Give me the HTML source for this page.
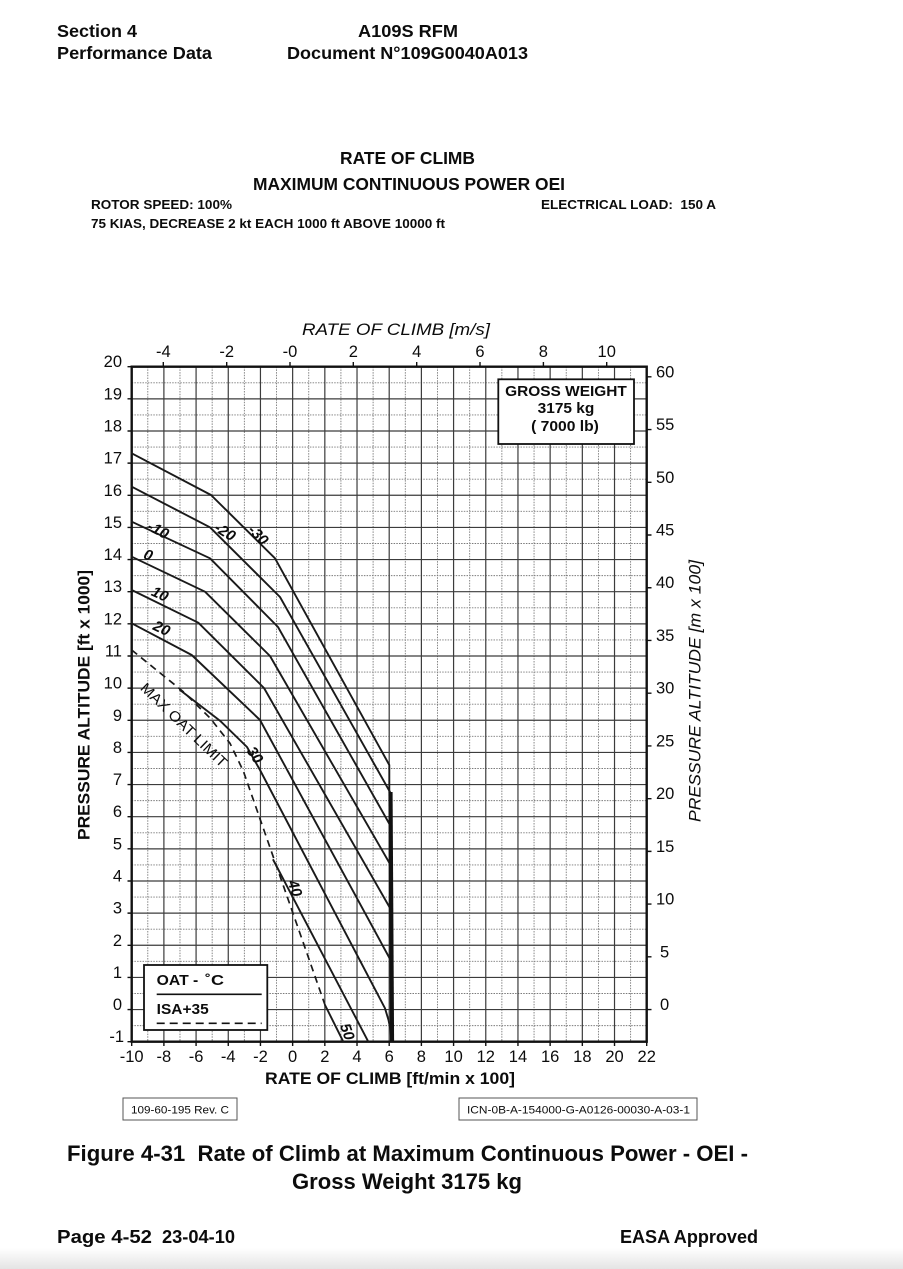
<!DOCTYPE html>
<html>
<head>
<meta charset="utf-8">
<style>
html,body{margin:0;padding:0;background:#fff;}
svg{display:block;}
text{font-family:"Liberation Sans",Arial,sans-serif;fill:#0c0c0c;}
</style>
</head>
<body>
<svg width="903" height="1269" viewBox="0 0 903 1269" xmlns="http://www.w3.org/2000/svg">
<defs>
<linearGradient id="bg" x1="0" y1="0" x2="0" y2="1">
<stop offset="0" stop-color="#ffffff"/>
<stop offset="1" stop-color="#e4e4e4"/>
</linearGradient>
</defs>
<rect x="0" y="0" width="903" height="1269" fill="#fff"/>
<rect x="0" y="1248" width="903" height="21" fill="url(#bg)"/>

<!-- Header -->
<text x="57" y="37" font-size="17.5" font-weight="bold" textLength="80" lengthAdjust="spacingAndGlyphs">Section 4</text>
<text x="57" y="59" font-size="17.5" font-weight="bold" textLength="155" lengthAdjust="spacingAndGlyphs">Performance Data</text>
<text x="358" y="37" font-size="17.5" font-weight="bold" textLength="100" lengthAdjust="spacingAndGlyphs">A109S RFM</text>
<text x="287" y="59" font-size="17.5" font-weight="bold" textLength="241" lengthAdjust="spacingAndGlyphs">Document N°109G0040A013</text>

<text x="340" y="164" font-size="17.5" font-weight="bold" textLength="135" lengthAdjust="spacingAndGlyphs">RATE OF CLIMB</text>
<text x="253" y="190" font-size="17.5" font-weight="bold" textLength="312" lengthAdjust="spacingAndGlyphs">MAXIMUM CONTINUOUS POWER OEI</text>
<text x="91" y="209" font-size="13" font-weight="bold" textLength="141" lengthAdjust="spacingAndGlyphs">ROTOR SPEED: 100%</text>
<text x="541" y="209" font-size="13" font-weight="bold" textLength="175" lengthAdjust="spacingAndGlyphs">ELECTRICAL LOAD:&#160; 150 A</text>
<text x="91" y="228" font-size="13" font-weight="bold" textLength="354" lengthAdjust="spacingAndGlyphs">75 KIAS, DECREASE 2 kt EACH 1000 ft ABOVE 10000 ft</text>

<!-- Grid minor (dotted) -->
<path fill="none" stroke="#7a7a7a" stroke-width="0.9" stroke-dasharray="1.5,1.2" d="
M147.79 366.7V1041.7 M179.98 366.7V1041.7 M212.17 366.7V1041.7 M244.36 366.7V1041.7 M276.55 366.7V1041.7 M308.73 366.7V1041.7 M340.92 366.7V1041.7 M373.11 366.7V1041.7 M405.3 366.7V1041.7 M437.49 366.7V1041.7 M469.67 366.7V1041.7 M501.86 366.7V1041.7 M534.05 366.7V1041.7 M566.24 366.7V1041.7 M598.43 366.7V1041.7 M630.61 366.7V1041.7
M131.7 382.77H646.7 M131.7 414.91H646.7 M131.7 447.06H646.7 M131.7 479.2H646.7 M131.7 511.34H646.7 M131.7 543.49H646.7 M131.7 575.63H646.7 M131.7 607.77H646.7 M131.7 639.92H646.7 M131.7 672.06H646.7 M131.7 704.2H646.7 M131.7 736.34H646.7 M131.7 768.49H646.7 M131.7 800.63H646.7 M131.7 832.77H646.7 M131.7 864.92H646.7 M131.7 897.06H646.7 M131.7 929.2H646.7 M131.7 961.35H646.7 M131.7 993.49H646.7 M131.7 1025.63H646.7"/>

<!-- Grid major -->
<path fill="none" stroke="#3c3c3c" stroke-width="1.2" d="
M163.89 366.7V1041.7 M196.08 366.7V1041.7 M228.26 366.7V1041.7 M260.45 366.7V1041.7 M292.64 366.7V1041.7 M324.83 366.7V1041.7 M357.02 366.7V1041.7 M389.2 366.7V1041.7 M421.39 366.7V1041.7 M453.58 366.7V1041.7 M485.77 366.7V1041.7 M517.96 366.7V1041.7 M550.14 366.7V1041.7 M582.33 366.7V1041.7 M614.52 366.7V1041.7
M131.7 398.84H646.7 M131.7 430.99H646.7 M131.7 463.13H646.7 M131.7 495.27H646.7 M131.7 527.42H646.7 M131.7 559.56H646.7 M131.7 591.7H646.7 M131.7 623.84H646.7 M131.7 655.99H646.7 M131.7 688.13H646.7 M131.7 720.27H646.7 M131.7 752.42H646.7 M131.7 784.56H646.7 M131.7 816.7H646.7 M131.7 848.85H646.7 M131.7 880.99H646.7 M131.7 913.13H646.7 M131.7 945.27H646.7 M131.7 977.42H646.7 M131.7 1009.56H646.7"/>

<!-- Ticks -->
<path fill="none" stroke="#111" stroke-width="1.4" d="
M131.7 1041.7V1046 M163.89 1041.7V1046 M196.08 1041.7V1046 M228.26 1041.7V1046 M260.45 1041.7V1046 M292.64 1041.7V1046 M324.83 1041.7V1046 M357.02 1041.7V1046 M389.2 1041.7V1046 M421.39 1041.7V1046 M453.58 1041.7V1046 M485.77 1041.7V1046 M517.96 1041.7V1046 M550.14 1041.7V1046 M582.33 1041.7V1046 M614.52 1041.7V1046 M646.7 1041.7V1046
M127.5 366.7H131.7 M127.5 398.84H131.7 M127.5 430.99H131.7 M127.5 463.13H131.7 M127.5 495.27H131.7 M127.5 527.42H131.7 M127.5 559.56H131.7 M127.5 591.7H131.7 M127.5 623.84H131.7 M127.5 655.99H131.7 M127.5 688.13H131.7 M127.5 720.27H131.7 M127.5 752.42H131.7 M127.5 784.56H131.7 M127.5 816.7H131.7 M127.5 848.85H131.7 M127.5 880.99H131.7 M127.5 913.13H131.7 M127.5 945.27H131.7 M127.5 977.42H131.7 M127.5 1009.56H131.7 M127.5 1041.7H131.7
M646.7 376.83H651.5 M646.7 429.56H651.5 M646.7 482.29H651.5 M646.7 535.01H651.5 M646.7 587.74H651.5 M646.7 640.47H651.5 M646.7 693.2H651.5 M646.7 745.92H651.5 M646.7 798.65H651.5 M646.7 851.38H651.5 M646.7 904.11H651.5 M646.7 956.84H651.5 M646.7 1009.56H651.5
M163.3 362V366.7 M226.7 362V366.7 M290 362V366.7 M353.3 362V366.7 M416.7 362V366.7 M480 362V366.7 M543.4 362V366.7 M606.7 362V366.7"/>

<!-- Frame -->
<rect x="131.7" y="366.7" width="515" height="675" fill="none" stroke="#111" stroke-width="2.4"/>

<!-- Left labels -->
<g font-size="16.5" text-anchor="end">
<text x="122" y="367.2">20</text>
<text x="122" y="399.3">19</text>
<text x="122" y="431.5">18</text>
<text x="122" y="463.6">17</text>
<text x="122" y="495.8">16</text>
<text x="122" y="527.9">15</text>
<text x="122" y="560.1">14</text>
<text x="122" y="592.2">13</text>
<text x="122" y="624.3">12</text>
<text x="122" y="656.5">11</text>
<text x="122" y="688.6">10</text>
<text x="122" y="720.8">9</text>
<text x="122" y="752.9">8</text>
<text x="122" y="785.1">7</text>
<text x="122" y="817.2">6</text>
<text x="122" y="849.4">5</text>
<text x="122" y="881.5">4</text>
<text x="122" y="913.6">3</text>
<text x="122" y="945.8">2</text>
<text x="122" y="977.9">1</text>
<text x="122" y="1010.1">0</text>
<text x="124" y="1042.2">-1</text>
</g>

<!-- Right labels -->
<g font-size="16.5" text-anchor="start">
<text x="656" y="377.3">60</text>
<text x="656" y="430">55</text>
<text x="656" y="482.8">50</text>
<text x="656" y="535.5">45</text>
<text x="656" y="588.2">40</text>
<text x="656" y="641">35</text>
<text x="656" y="693.7">30</text>
<text x="656" y="746.4">25</text>
<text x="656" y="799.1">20</text>
<text x="656" y="851.9">15</text>
<text x="656" y="904.6">10</text>
<text x="660" y="957.3">5</text>
<text x="660" y="1010">0</text>
</g>

<!-- Top labels -->
<g font-size="16.5" text-anchor="middle">
<text x="163.3" y="357">-4</text>
<text x="226.7" y="357">-2</text>
<text x="290" y="357">-0</text>
<text x="353.3" y="357">2</text>
<text x="416.7" y="357">4</text>
<text x="480" y="357">6</text>
<text x="543.4" y="357">8</text>
<text x="606.7" y="357">10</text>
</g>

<!-- Bottom labels -->
<g font-size="16.5" text-anchor="middle">
<text x="131.7" y="1062">-10</text>
<text x="163.89" y="1062">-8</text>
<text x="196.08" y="1062">-6</text>
<text x="228.26" y="1062">-4</text>
<text x="260.45" y="1062">-2</text>
<text x="292.64" y="1062">0</text>
<text x="324.83" y="1062">2</text>
<text x="357.02" y="1062">4</text>
<text x="389.2" y="1062">6</text>
<text x="421.39" y="1062">8</text>
<text x="453.58" y="1062">10</text>
<text x="485.77" y="1062">12</text>
<text x="517.96" y="1062">14</text>
<text x="550.14" y="1062">16</text>
<text x="582.33" y="1062">18</text>
<text x="614.52" y="1062">20</text>
<text x="646.7" y="1062">22</text>
</g>

<!-- Axis titles -->
<text x="302" y="335" font-size="17" font-style="italic" textLength="188" lengthAdjust="spacingAndGlyphs">RATE OF CLIMB [m/s]</text>
<text x="265" y="1084" font-size="17" font-weight="bold" textLength="250" lengthAdjust="spacingAndGlyphs">RATE OF CLIMB [ft/min x 100]</text>
<text transform="translate(89.5,705) rotate(-90)" x="0" y="0" font-size="17" font-weight="bold" text-anchor="middle" textLength="270" lengthAdjust="spacingAndGlyphs">PRESSURE ALTITUDE [ft x 1000]</text>
<text transform="translate(700.5,691) rotate(-90)" x="0" y="0" font-size="17" font-style="italic" text-anchor="middle" textLength="262" lengthAdjust="spacingAndGlyphs">PRESSURE ALTITUDE [m x 100]</text>

<!-- Gross weight box -->
<rect x="498.3" y="379.3" width="135.7" height="64.7" fill="#fff" stroke="#111" stroke-width="1.8"/>
<g font-size="14.5" font-weight="bold" text-anchor="middle">
<text x="566" y="396" textLength="121.7" lengthAdjust="spacingAndGlyphs">GROSS WEIGHT</text>
<text x="566" y="413" textLength="56.7" lengthAdjust="spacingAndGlyphs">3175 kg</text>
<text x="565" y="431" textLength="67.7" lengthAdjust="spacingAndGlyphs">( 7000 lb)</text>
</g>

<!-- Curves -->
<g fill="none" stroke="#1a1a1a" stroke-width="1.9" stroke-linejoin="round" stroke-linecap="round">
<polyline points="131.7,453.3 211,495 275,558.3 389.3,765 389.3,792"/>
<polyline points="131.7,486.7 210,527.3 280,597 390,792"/>
<polyline points="131.7,521.7 210,558.3 278,627 390,825"/>
<polyline points="131.7,556.7 205,591.7 270,656 390,864"/>
<polyline points="131.7,590 198.3,622.7 264,688 390,908"/>
<polyline points="131.7,623.3 191.7,655 260,720 390,959"/>
<polyline points="180,690 220,720.7 247,747 260,770 385,1008.3 388.5,1020 390.5,1030 391.5,1041.7"/>
<polyline points="273.3,860 368.3,1041.7"/>
<polyline points="325,1005 343.3,1041.7"/>
</g>
<polyline fill="none" stroke="#1a1a1a" stroke-width="1.7" stroke-dasharray="7,5" points="131.7,650 183.3,691.7 210,718 230,743.3 243.3,771 325,1005"/>
<line x1="390.5" y1="792" x2="392" y2="1041.7" stroke="#111" stroke-width="4.2"/>

<!-- Curve labels -->
<g font-size="15" font-style="italic" font-weight="bold" text-anchor="middle" fill="#1a1a1a">
<text transform="translate(158.3,530) rotate(27)" y="5">-10</text>
<text transform="translate(148.3,555) rotate(20)" y="5">0</text>
<text transform="translate(160,594) rotate(25)" y="5">10</text>
<text transform="translate(161.7,628.3) rotate(25)" y="5">20</text>
<text transform="translate(225,531.7) rotate(32)" y="5">-20</text>
<text transform="translate(258.3,535) rotate(45)" y="5">-30</text>
<text transform="translate(255,755) rotate(55)" y="5">30</text>
<text transform="translate(295,888.3) rotate(70)" y="5">40</text>
<text transform="translate(347.3,1031.7) rotate(70)" y="5">50</text>
</g>
<text transform="translate(184,725) rotate(44)" y="5" font-size="14.5" text-anchor="middle" textLength="114" lengthAdjust="spacingAndGlyphs">MAX OAT LIMIT</text>

<!-- Legend box -->
<rect x="144" y="965" width="123.3" height="65" fill="#fff" stroke="#111" stroke-width="1.8"/>
<text x="156.7" y="985" font-size="14.5" font-weight="bold" textLength="41.6" lengthAdjust="spacingAndGlyphs">OAT -</text>
<text x="205" y="985" font-size="14.5" font-weight="bold" textLength="19" lengthAdjust="spacingAndGlyphs">˚C</text>
<line x1="156.7" y1="994.3" x2="261.7" y2="994.3" stroke="#111" stroke-width="1.7"/>
<text x="156.7" y="1014" font-size="14.5" font-weight="bold" textLength="52" lengthAdjust="spacingAndGlyphs">ISA+35</text>
<line x1="156.7" y1="1023.3" x2="261.7" y2="1023.3" stroke="#111" stroke-width="1.6" stroke-dasharray="8,5"/>

<!-- Small reference boxes -->
<rect x="123" y="1098" width="114" height="22" fill="#fff" stroke="#555" stroke-width="1"/>
<text x="131" y="1113.5" font-size="11" textLength="98" lengthAdjust="spacingAndGlyphs">109-60-195 Rev. C</text>
<rect x="459" y="1098" width="238" height="22" fill="#fff" stroke="#555" stroke-width="1"/>
<text x="467" y="1113.5" font-size="11" textLength="223" lengthAdjust="spacingAndGlyphs">ICN-0B-A-154000-G-A0126-00030-A-03-1</text>

<!-- Figure caption -->
<text x="67" y="1161" font-size="22" font-weight="bold" textLength="681" lengthAdjust="spacingAndGlyphs">Figure 4-31&#160; Rate of Climb at Maximum Continuous Power - OEI -</text>
<text x="292" y="1189" font-size="22" font-weight="bold" textLength="230" lengthAdjust="spacingAndGlyphs">Gross Weight 3175 kg</text>

<!-- Footer -->
<text x="57" y="1243" font-size="18" font-weight="bold" textLength="95" lengthAdjust="spacingAndGlyphs">Page 4-52</text>
<text x="162" y="1243" font-size="18" font-weight="bold" textLength="73" lengthAdjust="spacingAndGlyphs">23-04-10</text>
<text x="620" y="1243" font-size="18" font-weight="bold" textLength="138" lengthAdjust="spacingAndGlyphs">EASA Approved</text>
</svg>
</body>
</html>
